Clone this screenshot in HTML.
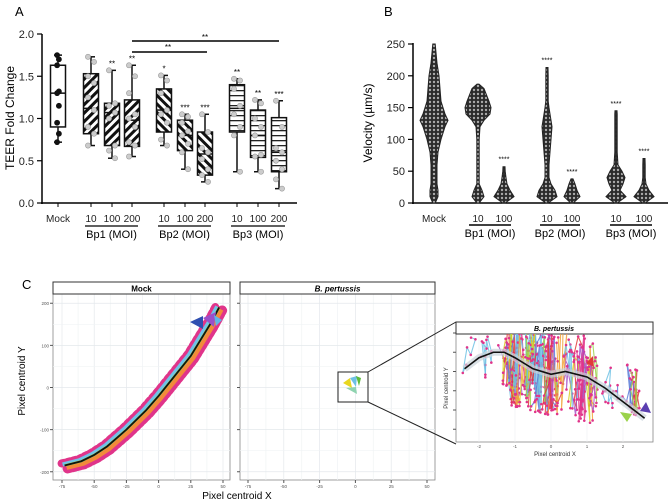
<!DOCTYPE html>
<html><head><meta charset="utf-8"><style>
html,body{margin:0;padding:0;background:#fff;}
svg{display:block;font-family:"Liberation Sans",sans-serif;}
</style></head><body>
<svg id="fig" width="668" height="502" viewBox="0 0 668 502">
<defs>
<pattern id="hatchA" width="6" height="6" patternUnits="userSpaceOnUse" patternTransform="rotate(45)"><rect width="6" height="6" fill="#fff"/><rect width="3" height="6" fill="#111"/></pattern>
<pattern id="hatchB" width="6" height="6" patternUnits="userSpaceOnUse" patternTransform="rotate(-45)"><rect width="6" height="6" fill="#fff"/><rect width="3" height="6" fill="#111"/></pattern>
<pattern id="hatchC" width="6" height="5" patternUnits="userSpaceOnUse"><rect width="6" height="5" fill="#fff"/><rect width="6" height="1.3" fill="#222"/></pattern>
<pattern id="violinFill" width="4" height="4" patternUnits="userSpaceOnUse"><rect width="4" height="4" fill="#2a2a2a"/><circle cx="2" cy="2" r="1.2" fill="#aaa"/></pattern>
<clipPath id="clipMock"><rect x="53" y="294" width="177" height="186"/></clipPath>
<clipPath id="clipInset"><rect x="456" y="334" width="197" height="108"/></clipPath>
</defs>
<g id="panelA"></g>
<g id="panelB"></g>
<g id="panelC"></g>
</svg>
<script>
// ---------- Panel A data ----------
const aCats = ["Mock","10","100","200","10","100","200","10","100","200"];
const aQ1 = [0.90,0.82,0.68,0.67,0.84,0.62,0.33,0.84,0.54,0.37];
const aMed = [1.30,1.12,1.07,0.98,1.10,0.80,0.58,1.12,0.80,0.60];
const aQ3 = [1.63,1.53,1.18,1.22,1.35,0.98,0.84,1.40,1.10,1.01];
const aMin = [0.72,0.68,0.53,0.55,0.68,0.40,0.25,0.37,0.37,0.17];
const aMax = [1.75,1.73,1.57,1.63,1.51,1.05,1.05,1.47,1.22,1.21];
const aStars = ["","","**","**","*","***","***","**","**","***"];
const aPoints = [
 [1.75,1.70,1.63,1.32,1.30,1.15,0.95,0.82,0.72],
 [1.73,1.67,1.50,1.42,1.25,1.10,0.90,0.82,0.68],
 [1.57,1.18,1.15,1.07,1.00,0.68,0.62,0.53],
 [1.63,1.50,1.30,1.05,1.00,0.90,0.72,0.68,0.55],
 [1.51,1.45,1.30,1.10,1.05,0.95,0.75,0.68],
 [1.05,1.02,0.95,0.85,0.80,0.70,0.60,0.40],
 [1.05,0.84,0.65,0.60,0.52,0.40,0.33,0.25],
 [1.47,1.45,1.35,1.15,1.05,0.90,0.80,0.37],
 [1.22,1.18,1.00,0.90,0.80,0.57,0.55,0.37],
 [1.21,0.90,0.65,0.60,0.50,0.40,0.28,0.17]
];
const aTicks = [0.0,0.5,1.0,1.5,2.0];
const aTickLabels = ["0.0","0.5","1.0","1.5","2.0"];
// ---------- Panel B data ----------
const bCats = ["Mock","10","100","10","100","10","100"];
const bLevels = [0,10,20,30,40,50,60,80,100,120,130,140,150,160,180,200,220,250];
const bWidths = [
 [0,4,4,3,3,3,3,4,7,11,14,11,9,7,6,5,3,0],
 [0,6,4,1,1,1,1,1,1,2,6,12,13,11,6,0,0,0],
 [0,10,6,3,2,1,0,0,0,0,0,0,0,0,0,0,0,0],
 [0,10,8,4,2,2,2,3,4,5,4,3,2,1,1,1,0,0],
 [0,8,5,3,1,0,0,0,0,0,0,0,0,0,0,0,0,0],
 [0,10,4,7,9,6,2,1,1,1,1,0,0,0,0,0,0,0],
 [0,10,5,2,1,1,1,0,0,0,0,0,0,0,0,0,0,0]
];
const bMax = [250,187,57,213,38,145,70];
const bStars = ["","","****","****","****","****","****"];
const bTicks = [0,50,100,150,200,250];
// ---------- Panel C data ----------
const cTicksX = [-75,-50,-25,0,25,50];
const cTicksY = [-200,-100,0,100,200];
const mockFitX = [-73,-60,-50,-40,-25,-10,0,10,25,40,47];
const mockFitY = [-185,-175,-160,-140,-100,-55,-20,18,75,150,190];
const insetTicksX = [-2,-1,0,1,2];
const insetFitX = [-2.4,-2.0,-1.6,-1.3,-1.0,-0.5,0,0.4,1.0,1.5,2.0,2.6];
const insetFitY = [0.35,0.55,0.65,0.65,0.55,0.35,0.25,0.30,0.20,0.0,-0.25,-0.55];

const NS="http://www.w3.org/2000/svg";
function mk(parent,tag,attrs,name,text){
 const e=document.createElementNS(NS,tag);
 for(const k in attrs) e.setAttribute(k,attrs[k]);
 
 
 if(text!==undefined) e.textContent=text;
 parent.appendChild(e); return e;
}
// ---------- Panel A ----------
(function(){
 const g=document.getElementById('panelA');
 const y=v=>203-v*84.5;
 const xs=[58,91,112,132,164,185,205,237,258,279];
 const fills=["#fff","url(#hatchA)","url(#hatchA)","url(#hatchA)","url(#hatchB)","url(#hatchB)","url(#hatchB)","url(#hatchC)","url(#hatchC)","url(#hatchC)"];
 mk(g,'text',{x:15,y:16,'font-size':13},'panel-a-label',"A");
 mk(g,'line',{x1:42,y1:34,x2:42,y2:204,stroke:'#000','stroke-width':1.5},'y-axis');
 mk(g,'line',{x1:41,y1:203,x2:297,y2:203,stroke:'#000','stroke-width':1.5},'x-axis');
 aTicks.forEach((t,i)=>{
  mk(g,'line',{x1:37,y1:y(t),x2:42,y2:y(t),stroke:'#000','stroke-width':1.2},'y-tick');
  mk(g,'text',{x:34,y:y(t)+4,'font-size':11,'text-anchor':'end',fill:'#222'},'y-tick-label',aTickLabels[i]);
 });
 mk(g,'text',{x:0,y:0,'font-size':12,'text-anchor':'middle',transform:'translate(14,118) rotate(-90)'},'y-axis-title',"TEER Fold Change");
 aCats.forEach((c,i)=>{
  const x=xs[i],w=15;
  mk(g,'line',{x1:x,y1:y(aMin[i]),x2:x,y2:y(aMax[i]),stroke:'#111','stroke-width':1.5},'whisker');
  mk(g,'line',{x1:x-4,y1:y(aMin[i]),x2:x+4,y2:y(aMin[i]),stroke:'#111','stroke-width':1.5},'whisker-cap');
  mk(g,'line',{x1:x-4,y1:y(aMax[i]),x2:x+4,y2:y(aMax[i]),stroke:'#111','stroke-width':1.5},'whisker-cap');
  mk(g,'rect',{x:x-w/2,y:y(aQ3[i]),width:w,height:y(aQ1[i])-y(aQ3[i]),fill:fills[i],stroke:'#111','stroke-width':1.5},'box-'+i);
  mk(g,'line',{x1:x-w/2,y1:y(aMed[i]),x2:x+w/2,y2:y(aMed[i]),stroke:'#111','stroke-width':1.5},'median');
  aPoints[i].forEach((p,j)=>{
   const dx=(j%2?3:-3)*(i===0?0.3:1);
   mk(g,'circle',{cx:x+dx,cy:y(p),r:2.6,fill:i===0?'#111':'#ccc',stroke:i===0?'#111':'#999','stroke-width':0.6},'data-point');
  });
  if(aStars[i]) mk(g,'text',{x:x,y:y(aMax[i])-4,'font-size':8,'text-anchor':'middle'},'significance',aStars[i]);
  mk(g,'line',{x1:x,y1:203,x2:x,y2:207,stroke:'#000'},'x-tick');
  mk(g,'text',{x:x,y:222,'font-size':10,'text-anchor':'middle',fill:'#222'},'x-tick-label',c);
 });
 [["Bp1 (MOI)",85,138],["Bp2 (MOI)",158,211],["Bp3 (MOI)",231,285]].forEach(([t,a,b])=>{
  mk(g,'line',{x1:a,y1:226,x2:b,y2:226,stroke:'#000','stroke-width':1.2},'group-underline');
  mk(g,'text',{x:(a+b)/2,y:238,'font-size':11,'text-anchor':'middle'},'group-label',t);
 });
 mk(g,'line',{x1:132,y1:41,x2:279,y2:41,stroke:'#000','stroke-width':1.5},'comparison-bracket');
 mk(g,'text',{x:205,y:40,'font-size':8,'text-anchor':'middle'},'bracket-stars',"**");
 mk(g,'line',{x1:132,y1:52,x2:207,y2:52,stroke:'#000','stroke-width':1.5},'comparison-bracket');
 mk(g,'text',{x:168,y:50,'font-size':8,'text-anchor':'middle'},'bracket-stars',"**");
})();
// ---------- Panel B ----------
(function(){
 const g=document.getElementById('panelB');
 const y=v=>203-v*0.636;
 const xs=[434,478,504,547,572,616,644];
 mk(g,'text',{x:384,y:16,'font-size':13},'panel-b-label',"B");
 mk(g,'line',{x1:413,y1:43,x2:413,y2:204,stroke:'#000','stroke-width':1.5},'y-axis');
 mk(g,'line',{x1:412,y1:203,x2:668,y2:203,stroke:'#000','stroke-width':1.5},'x-axis');
 bTicks.forEach(t=>{
  mk(g,'line',{x1:408,y1:y(t),x2:413,y2:y(t),stroke:'#000','stroke-width':1.2},'y-tick');
  mk(g,'text',{x:405,y:y(t)+4,'font-size':11,'text-anchor':'end',fill:'#222'},'y-tick-label',String(t));
 });
 mk(g,'text',{x:0,y:0,'font-size':12,'text-anchor':'middle',transform:'translate(372,123) rotate(-90)'},'y-axis-title',"Velocity (µm/s)");
 bCats.forEach((c,i)=>{
  const x=xs[i]; let L=[],R=[];
  bLevels.forEach((lv,k)=>{ if(lv<=bMax[i]){ const w=Math.max(bWidths[i][k],1.2); R.push([x+w,y(lv)]); L.push([x-w,y(lv)]); } });
  R.push([x+1,y(bMax[i])]); L.push([x-1,y(bMax[i])]);
  const pts=R.concat(L.reverse()).map(p=>p.join(',')).join(' ');
  mk(g,'polygon',{points:pts,fill:'url(#violinFill)',stroke:'#222','stroke-width':1},'violin-'+i);
  if(bStars[i]) mk(g,'text',{x:x,y:y(bMax[i])-5,'font-size':7,'text-anchor':'middle'},'significance',bStars[i]);
  mk(g,'text',{x:x,y:222,'font-size':10,'text-anchor':'middle',fill:'#222'},'x-tick-label',c);
 });
 [["Bp1 (MOI)",469,511],["Bp2 (MOI)",540,580],["Bp3 (MOI)",610,652]].forEach(([t,a,b])=>{
  mk(g,'line',{x1:a,y1:225,x2:b,y2:225,stroke:'#000','stroke-width':1.5},'group-underline');
  mk(g,'text',{x:(a+b)/2,y:237,'font-size':11,'text-anchor':'middle'},'group-label',t);
 });
})();
// ---------- Panel C ----------
(function(){
 const g=document.getElementById('panelC');
 mk(g,'text',{x:22,y:289,'font-size':13},'panel-c-label',"C");
 const yY=v=>387.5-v*0.4213;
 function facet(x0,x1,xm75,x50,title,italic){
  const xX=v=>xm75+(v+75)*(x50-xm75)/125;
  mk(g,'rect',{x:x0,y:294,width:x1-x0,height:186,fill:'#fff',stroke:'#888','stroke-width':0.8},'facet-panel');
  for(let v=-75;v<=50;v+=12.5) mk(g,'line',{x1:xX(v),y1:294,x2:xX(v),y2:480,stroke:v%25===0?'#e4e8ec':'#f0f3f5','stroke-width':0.7},'grid-x');
  for(let v=-200;v<=200;v+=50) mk(g,'line',{x1:x0,y1:yY(v),x2:x1,y2:yY(v),stroke:v%100===0?'#e4e8ec':'#f0f3f5','stroke-width':0.7},'grid-y');
  mk(g,'rect',{x:x0,y:282,width:x1-x0,height:12,fill:'#fff',stroke:'#333','stroke-width':1},'facet-strip');
  mk(g,'text',{x:(x0+x1)/2,y:291.5,'font-size':8,'font-weight':'bold','font-style':italic?'italic':'normal','text-anchor':'middle'},'facet-title',title);
  cTicksX.forEach(t=>{
   mk(g,'line',{x1:xX(t),y1:480,x2:xX(t),y2:483,stroke:'#555'},'x-tick');
   mk(g,'text',{x:xX(t),y:488,'font-size':4.5,'text-anchor':'middle',fill:'#555'},'x-tick-label',String(t));
  });
  cTicksY.forEach(t=>mk(g,'line',{x1:x0-3,y1:yY(t),x2:x0,y2:yY(t),stroke:'#555'},'y-tick'));
  return xX;
 }
 const xM=facet(53,230,62,223,"Mock",false);
 cTicksY.forEach(t=>mk(g,'text',{x:49,y:yY(t)+2,'font-size':4.5,'text-anchor':'end',fill:'#555'},'y-tick-label',String(t)));
 const xP=facet(240,435,248,427,"B. pertussis",true);
 const fitPts=mockFitX.map((v,i)=>[xM(v),yY(mockFitY[i])]);
 const d='M'+fitPts.map(p=>p.join(',')).join(' L');
 const cl=mk(g,'g',{'clip-path':'url(#clipMock)'},'mock-tracks');
 mk(cl,'path',{d:d,fill:'none',stroke:'#e0348a','stroke-width':10,'stroke-dasharray':'3 2','stroke-linecap':'round',transform:'translate(3,3)'},'track-points');
 mk(cl,'path',{d:d,fill:'none',stroke:'#e0348a','stroke-width':8,'stroke-dasharray':'3 3','stroke-linecap':'round',transform:'translate(-3,-2)'},'track-points');
 mk(cl,'path',{d:d,fill:'none',stroke:'#f28a3a','stroke-width':5,transform:'translate(2,2)'},'track-orange');
 mk(cl,'path',{d:d,fill:'none',stroke:'#6fc3e8','stroke-width':4,transform:'translate(-2,-1)'},'track-blue');
 mk(cl,'path',{d:d,fill:'none',stroke:'#9ad24a','stroke-width':2.5},'track-green');
 mk(cl,'path',{d:d,fill:'none',stroke:'#111','stroke-width':1.8},'mock-fit-line');
 mk(g,'polygon',{points:'190,322 203,316 203,329',fill:'#2f4fb0'},'track-arrow');
 mk(g,'polygon',{points:'203,318 216,312 214,327',fill:'#9b4fc8'},'track-arrow');
 mk(g,'polygon',{points:'214,315 222,320 216,326',fill:'#5fb5e8'},'track-arrow');
 mk(g,'polygon',{points:'343,383 350,378 352,388',fill:'#e8d720'},'tiny-track');
 mk(g,'polygon',{points:'350,378 357,376 356,387',fill:'#6ec1e4'},'tiny-track');
 mk(g,'polygon',{points:'346,388 356,387 357,394',fill:'#8fd3b0'},'tiny-track');
 mk(g,'polygon',{points:'356,376 361,378 359,386',fill:'#5dbb3a'},'tiny-track');
 mk(g,'rect',{x:338,y:372,width:30,height:30,fill:'none',stroke:'#222','stroke-width':1},'zoom-box');
 mk(g,'line',{x1:368,y1:372,x2:456,y2:322,stroke:'#222','stroke-width':1},'zoom-line');
 mk(g,'line',{x1:368,y1:402,x2:456,y2:444,stroke:'#222','stroke-width':1},'zoom-line');
 mk(g,'text',{x:0,y:0,'font-size':10,'text-anchor':'middle',transform:'translate(25,381) rotate(-90)'},'y-axis-title',"Pixel centroid Y");
 mk(g,'text',{x:237,y:499,'font-size':10,'text-anchor':'middle'},'x-axis-title',"Pixel centroid X");
 // inset
 const iX=v=>551+v*36; const iY=v=>388-v*55;
 mk(g,'rect',{x:456,y:334,width:197,height:108,fill:'#fff',stroke:'#888','stroke-width':0.8},'inset-panel');
 insetTicksX.forEach(t=>{
  mk(g,'line',{x1:iX(t),y1:334,x2:iX(t),y2:442,stroke:'#eceff2','stroke-width':0.6},'grid-x');
  mk(g,'text',{x:iX(t),y:448,'font-size':4.5,'text-anchor':'middle',fill:'#555'},'x-tick-label',String(t));
 });
 [-0.75,-0.4,-0.05,0.3,0.65,1.0].forEach(v=>mk(g,'line',{x1:453,y1:iY(v),x2:456,y2:iY(v),stroke:'#555'},'y-tick'));
 mk(g,'rect',{x:456,y:322,width:197,height:12,fill:'#fff',stroke:'#333','stroke-width':1},'inset-strip');
 mk(g,'text',{x:554,y:331,'font-size':7,'font-weight':'bold','font-style':'italic','text-anchor':'middle'},'inset-title',"B. pertussis");
 const ic=mk(g,'g',{'clip-path':'url(#clipInset)'},'inset-tracks');
 const cols=['#e0348a','#a855c8','#6ec1e4','#9ad24a','#f2a33a','#e03a3a','#d6d020','#5a7bd8','#6ec1e4','#6ec1e4'];
 let s=7; const rnd=()=>{s=(s*9301+49297)%233280;return s/233280;};
 for(let k=0;k<80;k++){
  let x=(k%3===0)?(-2.3+rnd()*4.7):(-1.2+rnd()*2.3), yv, pts=[];
  for(let j=0;j<6;j++){ x+=(rnd()-0.5)*0.3; yv=0.3-0.15*x+(rnd()-0.5)*(Math.abs(x)<1.2?1.6:0.9); pts.push([iX(x),iY(yv)]); }
  mk(ic,'polyline',{points:pts.map(p=>p.join(',')).join(' '),fill:'none',stroke:cols[k%cols.length],'stroke-width':1.1,opacity:0.85},'inset-track');
  pts.forEach(p=>mk(ic,'circle',{cx:p[0],cy:p[1],r:1.3,fill:'#e0348a'},'inset-point'));
 }
 const ifit=insetFitX.map((v,i)=>[iX(v),iY(insetFitY[i])]);
 mk(ic,'path',{d:'M'+ifit.map(p=>p.join(',')).join(' L'),fill:'none',stroke:'#c9d3da','stroke-width':7,opacity:0.7},'fit-ci');
 mk(ic,'path',{d:'M'+ifit.map(p=>p.join(',')).join(' L'),fill:'none',stroke:'#111','stroke-width':1.6},'inset-fit-line');
 mk(g,'polygon',{points:'640,411 646,402 651,413',fill:'#5b3fb0'},'track-arrow');
 mk(g,'polygon',{points:'586,363 593,356 594,367',fill:'#e03a3a'},'track-arrow');
 mk(g,'polygon',{points:'620,412 632,414 627,422',fill:'#9ad24a'},'track-arrow');
 mk(g,'text',{x:555,y:456,'font-size':6,'text-anchor':'middle',fill:'#333'},'inset-x-title',"Pixel centroid X");
 mk(g,'text',{x:0,y:0,'font-size':6,'text-anchor':'middle',fill:'#333',transform:'translate(448,388) rotate(-90)'},'inset-y-title',"Pixel centroid Y");
})();
</script>
</body></html>
